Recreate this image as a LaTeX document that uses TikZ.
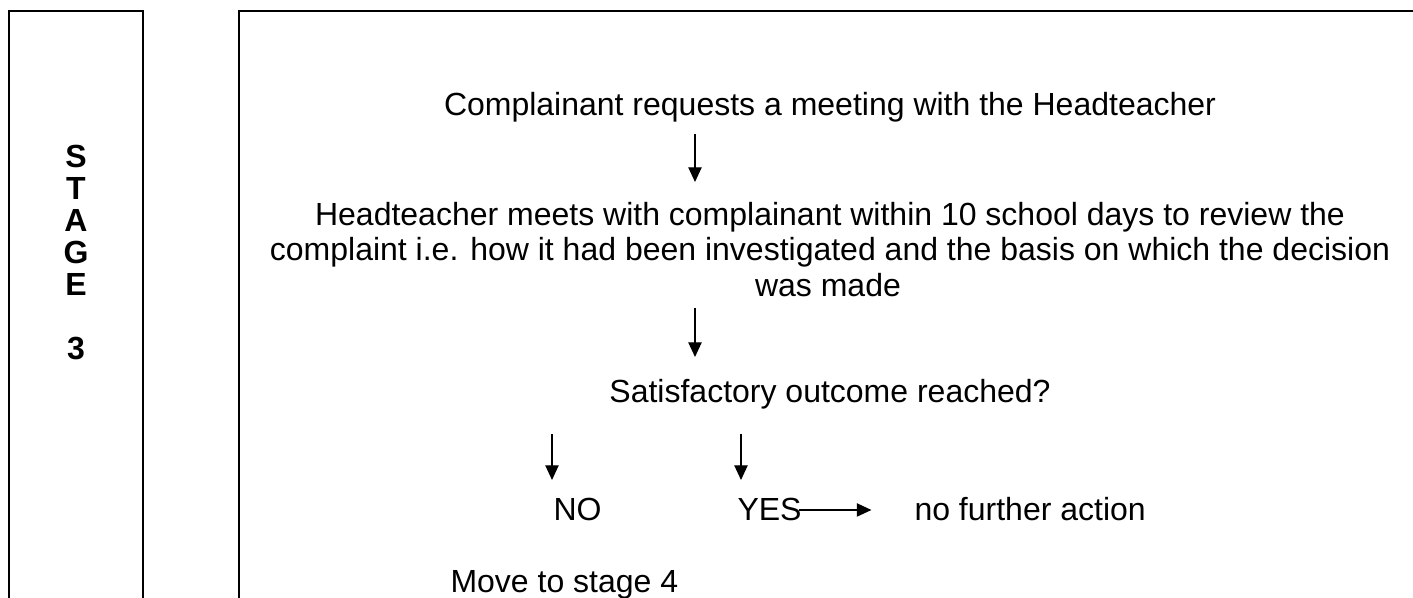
\documentclass[tikz,border=0pt]{standalone}
\usepackage{fontspec}
\setmainfont{Liberation Sans}
\usetikzlibrary{arrows.meta}

\tikzset{
 flow/.style = {line width = 0.5pt, -{Triangle[length = 5.5pt, width = 5pt]}},
 txt/.style = {inner sep = 0pt, font = \fontsize{12}{14}\selectfont},
 frame/.style = {line width = 0.75pt}
}

\begin{document}
\begin{tikzpicture}[x = 0.375pt, y = -0.375pt]
\useasboundingbox (0,0) rectangle (1413,598);

\draw[frame] (9,598)--(9,11)--(143,11)--(143,598);
\draw[frame] (239,598)--(239,11)--(1413,11);

\foreach \letter/\row in {S/1,T/2,A/3,G/4,E/5,3/7} {
 \node[txt, anchor = base, font = \fontsize{12}{14}\selectfont\bfseries] (stage\row) at (76, 136+32*\row) {\letter};
}

\node[txt, anchor = base] (req) at (830,116) {Complainant requests a meeting with the Headteacher};
\node[txt, anchor = base] (meet1) at (830,226) {Headteacher meets with complainant within 10 school days to review the};
\node[txt, anchor = base] (meet2) at (830,261) {complaint i.e. how it had been investigated and the basis on which the decision};
\node[txt, anchor = base] (meet3) at (828,297) {was made};
\node[txt, anchor = base] (sat) at (830,403) {Satisfactory outcome reached?};
\node[txt, anchor = base west] (no) at (553,521) {NO};
\node[txt, anchor = base west] (yes) at (737,521) {YES};
\node[txt, anchor = base west] (nfa) at (914,521) {no further action};
\node[txt, anchor = base west] (move) at (450,593) {Move to stage 4};

\foreach \name/\x/\ya/\yb in {req/695/134/182, meet/695/308/357, sno/552/434/480, syes/741/434/480} {
 \coordinate (\name top) at (\x,\ya);
 \coordinate (\name tip) at (\x,\yb);
 \draw[flow] (\name top)--(\name tip);
}

\draw[flow] ([xshift = -1pt]yes.east)--++(72,0);

\end{tikzpicture}
\end{document}
